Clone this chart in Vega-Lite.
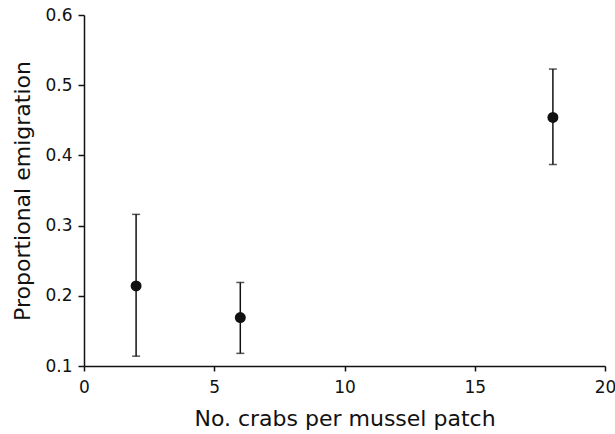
{
  "$schema": "https://vega.github.io/schema/vega-lite/v6.json",
  "width": 521,
  "height": 351,
  "autosize": {"type": "none"},
  "padding": {"left": 84, "top": 15, "right": 10, "bottom": 68},
  "background": "white",
  "config": {
    "view": {"stroke": null},
    "font": "DejaVu Sans",
    "axis": {
      "domainColor": "#111",
      "domainWidth": 1.5,
      "tickColor": "#111",
      "tickWidth": 1.5,
      "labelColor": "#111",
      "titleColor": "#111",
      "labelFont": "DejaVu Sans",
      "titleFont": "DejaVu Sans",
      "labelFontSize": 17,
      "titleFontSize": 22,
      "titleFontWeight": "normal",
      "labelFlush": false,
      "grid": false
    }
  },
  "data": {
    "values": [
      {"crabs": 2, "mean": 0.214, "lo": 0.114, "hi": 0.316},
      {"crabs": 6, "mean": 0.169, "lo": 0.118, "hi": 0.219},
      {"crabs": 18, "mean": 0.454, "lo": 0.387, "hi": 0.523}
    ]
  },
  "encoding": {
    "x": {
      "field": "crabs",
      "type": "quantitative",
      "scale": {"domain": [0, 20], "nice": false},
      "axis": {
        "title": "No. crabs per mussel patch",
        "values": [0, 5, 10, 15, 20],
        "tickSize": 5,
        "labelPadding": 8,
        "titlePadding": 13
      }
    }
  },
  "layer": [
    {
      "mark": {"type": "rule", "color": "#111", "strokeWidth": 1.5},
      "encoding": {
        "y": {
          "field": "lo",
          "type": "quantitative",
          "scale": {"domain": [0.1, 0.6], "nice": false, "zero": false},
          "axis": {
            "title": "Proportional emigration",
            "values": [0.1, 0.15, 0.2, 0.25, 0.3, 0.35, 0.4, 0.45, 0.5, 0.55, 0.6],
            "labelExpr": "round(datum.value*100) % 10 == 0 ? format(datum.value, '.1f') : ''",
            "tickSize": {"condition": {"test": "round(datum.value*100) % 10 == 0", "value": 6}, "value": 3},
            "labelPadding": 6,
            "titlePadding": 10
          }
        },
        "y2": {"field": "hi"}
      }
    },
    {
      "mark": {"type": "tick", "orient": "horizontal", "color": "#111", "thickness": 1.5, "size": 8},
      "encoding": {"y": {"field": "lo", "type": "quantitative"}}
    },
    {
      "mark": {"type": "tick", "orient": "horizontal", "color": "#111", "thickness": 1.5, "size": 8},
      "encoding": {"y": {"field": "hi", "type": "quantitative"}}
    },
    {
      "mark": {"type": "point", "filled": true, "shape": "circle", "color": "#111", "opacity": 1, "size": 120},
      "encoding": {"y": {"field": "mean", "type": "quantitative"}}
    }
  ]
}
